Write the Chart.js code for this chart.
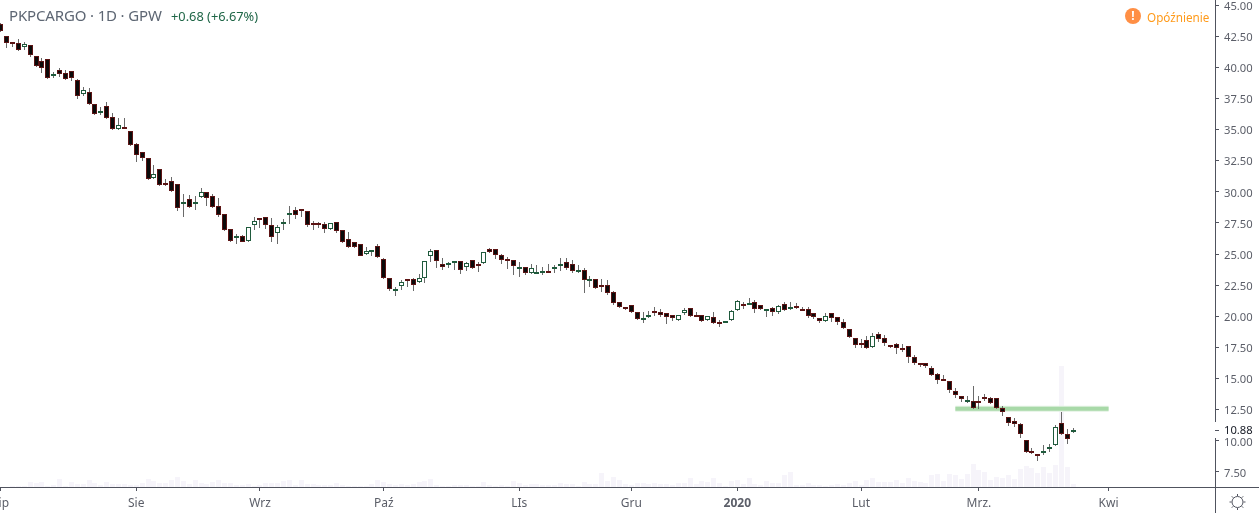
<!DOCTYPE html>
<html>
<head>
<meta charset="utf-8">
<title>PKPCARGO</title>
<script src="https://cdn.jsdelivr.net/npm/chart.js@4/dist/chart.umd.min.js"></script>
<style>
    html, body { margin: 0; padding: 0; background: #fff; overflow: hidden; }
    #wrap { position: relative; width: 1259px; height: 513px; font-family: 'Noto Sans', sans-serif; }
    #priceChart { position: absolute; left: 0; top: 0; }
    #title { position: absolute; left: 9px; top: 5px; font-size: 15px; letter-spacing: -0.15px; line-height: 20px; color: #5d6673; white-space: nowrap; }
    #change { position: absolute; left: 171px; top: 6px; font-size: 12.8px; line-height: 20px; color: #1f6647; white-space: nowrap; }
    #delayIcon { position: absolute; left: 1125px; top: 8px; width: 16px; height: 16px; border-radius: 50%; background: #ff8f45; color: #fff; font-size: 12px; font-weight: bold; line-height: 16px; text-align: center; }
    #delayText { position: absolute; left: 1147px; top: 7px; font-size: 11.7px; line-height: 20px; color: #ff9a1a; white-space: nowrap; }
    #gear { position: absolute; left: 1228px; top: 493px; }
</style>
</head>
<body>
<div id="wrap">
    <canvas id="priceChart" width="1259" height="513"></canvas>
    <div id="title">PKPCARGO · 1D · GPW</div>
    <div id="change">+0.68 (+6.67%)</div>
    <div id="delayIcon">!</div>
    <div id="delayText">Opóźnienie</div>
    <svg id="gear" width="19" height="18" viewBox="0 0 19 18">
        <circle cx="9.5" cy="9" r="5.5" fill="none" stroke="#50535e" stroke-width="1"/>
        <path d="M9.5 1v2M9.5 15v2M1.5 9h2M15.5 9h2M3.8 3.3l1.5 1.5M13.7 13.2l1.5 1.5M15.2 3.3l-1.5 1.5M5.3 13.2l-1.5 1.5" stroke="#50535e" stroke-width="1"/>
    </svg>
</div>
<script>
const opens = [43.48,42.49,42.01,41.93,41.66,41.77,40.89,40.48,40.64,39.36,
    39.76,39.52,39.68,38.99,37.83,37.99,37.03,36.36,36.87,35.99,
    35.02,35.24,34.86,33.82,33.18,32.69,31.09,31.81,30.69,30.85,
    30.61,29.00,29.40,29.11,29.62,29.96,29.64,28.84,28.20,26.99,
    26.35,26.48,26.08,27.37,27.93,28.01,27.31,26.72,27.39,28.20,
    28.52,28.60,28.44,27.47,27.47,27.39,26.99,27.55,26.91,26.19,
    25.95,25.79,24.98,25.20,25.63,24.58,23.06,22.09,22.47,23.00,
    22.98,22.73,23.06,24.82,25.30,24.23,24.10,24.34,24.42,23.94,
    24.50,24.18,24.26,25.38,25.38,24.90,24.58,24.50,23.91,23.94,
    23.46,23.46,23.51,23.62,23.78,24.02,24.34,24.18,23.67,23.70,
    22.90,22.98,22.50,22.50,21.93,21.13,20.73,20.89,20.33,19.85,
    19.93,20.41,20.33,20.25,20.09,19.69,20.25,20.65,20.09,20.09,
    19.69,19.93,19.52,19.52,19.69,20.49,20.97,20.97,21.13,20.89,
    20.49,20.65,20.33,20.97,20.68,20.81,20.57,20.57,20.25,19.85,
    19.61,20.25,19.93,19.53,18.97,18.25,17.84,18.08,17.52,18.57,
    18.25,17.68,17.76,17.47,17.60,16.72,16.24,16.29,15.84,15.35,
    14.95,14.79,13.99,13.59,13.24,13.19,13.19,13.51,13.43,13.43,
    12.62,11.90,11.58,11.34,10.05,9.17,8.96,9.09,9.41,9.65,
    11.42,10.54,10.78];
const closes = [42.95,41.98,41.85,41.42,41.85,40.97,40.14,39.92,39.12,39.44,
    39.44,39.04,39.12,37.67,38.16,37.06,36.28,36.47,35.91,35.02,
    35.34,35.10,33.79,32.94,32.69,31.01,31.41,30.53,30.55,30.04,
    28.68,29.16,28.76,29.19,29.96,29.48,28.76,28.12,26.91,26.08,
    26.43,26.00,27.15,27.69,27.79,27.31,26.35,27.15,27.55,28.33,
    28.17,28.49,27.31,27.37,27.37,27.04,27.47,26.88,26.00,25.60,
    25.60,24.88,25.22,25.36,24.74,23.06,22.17,22.17,22.73,22.87,
    22.49,23.06,24.42,25.22,24.42,23.94,24.26,24.42,23.70,24.26,
    23.91,24.10,25.14,25.14,24.90,24.50,24.50,24.02,23.97,23.46,
    23.86,23.57,23.62,23.51,23.94,24.18,23.91,23.67,23.73,22.95,
    22.98,22.26,22.39,21.91,21.05,20.73,20.57,20.38,19.77,19.90,
    20.09,20.33,20.14,19.93,19.85,20.09,20.49,20.01,20.01,19.61,
    20.01,19.44,19.36,19.61,20.41,21.21,20.89,21.05,20.57,20.57,
    20.57,20.33,20.81,20.49,20.73,20.65,20.49,20.01,19.93,19.61,
    20.01,19.85,19.53,19.05,18.33,17.68,17.68,17.44,18.41,18.16,
    17.84,17.52,17.44,17.42,16.72,16.24,16.18,16.00,15.27,14.87,
    14.87,14.07,13.67,13.35,13.29,12.62,13.03,13.35,13.03,12.62,
    12.30,11.42,11.34,10.54,9.09,9.09,8.90,9.22,9.49,11.10,
    10.54,10.13,10.88];
const highs = [43.54,42.49,42.06,42.28,42.06,41.80,40.89,40.75,40.64,39.65,
    39.92,39.79,39.73,39.07,38.40,38.32,37.03,36.79,37.22,36.33,
    35.93,35.93,34.86,33.90,33.23,32.69,32.16,31.81,31.03,31.17,
    30.61,29.80,29.72,29.67,30.31,29.99,29.83,29.48,28.20,26.99,
    26.62,26.53,27.15,27.95,27.93,28.01,27.87,27.31,27.82,28.87,
    28.76,28.60,28.44,27.63,27.61,27.55,27.53,27.55,26.96,26.75,
    26.00,25.79,25.55,25.36,25.79,24.66,23.06,22.39,22.92,23.00,
    23.06,23.40,24.42,25.38,25.30,24.66,24.39,24.42,24.42,24.39,
    24.55,24.34,25.20,25.47,25.38,24.98,24.74,24.50,24.34,23.94,
    24.21,24.13,24.00,24.21,24.13,24.66,24.66,24.53,24.10,23.86,
    23.25,22.98,22.98,22.92,22.01,21.13,20.73,20.89,20.33,20.33,
    20.43,20.73,20.57,20.25,20.09,20.09,20.65,20.65,20.33,20.09,
    20.01,20.33,19.69,19.61,20.49,21.29,21.13,21.45,21.29,20.89,
    20.57,20.73,20.89,21.13,21.13,21.05,20.73,20.73,20.25,19.85,
    20.25,20.25,19.93,19.77,18.97,18.25,18.16,18.43,18.67,18.73,
    18.49,17.68,17.84,17.76,17.60,16.88,16.24,16.29,16.00,15.43,
    15.27,14.79,14.26,13.59,13.59,14.42,13.56,13.77,13.51,13.43,
    12.78,11.90,11.85,11.42,10.05,9.44,8.96,9.68,9.73,11.28,
    12.33,10.96,11.02];
const lows = [42.81,41.58,41.66,41.34,41.39,40.86,40.06,39.57,39.07,39.12,
    39.25,38.99,38.93,37.49,37.73,37.00,36.20,36.20,35.85,34.97,
    34.97,35.05,33.71,32.43,32.51,30.95,31.01,30.50,30.50,29.99,
    28.49,28.01,28.71,28.54,29.48,28.89,28.71,27.96,26.86,26.00,
    25.81,25.97,25.99,26.94,27.12,26.99,26.00,25.81,26.94,27.42,
    27.82,28.01,27.21,26.94,27.12,26.72,26.94,26.72,25.87,25.52,
    25.52,24.85,24.90,24.88,24.66,23.00,22.04,21.64,22.12,22.39,
    22.04,22.65,22.71,24.39,23.86,23.70,23.91,23.73,23.40,23.64,
    23.81,23.59,24.23,25.06,24.64,24.18,23.81,23.35,23.19,23.35,
    23.41,23.41,23.35,23.49,23.51,23.67,23.73,23.51,23.46,21.91,
    22.34,22.20,21.99,21.75,20.94,20.65,20.52,20.27,19.71,19.50,
    19.87,20.03,19.98,19.42,19.66,19.66,20.14,19.98,19.98,19.55,
    19.61,19.42,19.18,19.50,19.66,20.43,20.57,20.89,20.30,20.49,
    19.98,20.06,20.17,20.43,20.52,20.57,20.47,19.88,19.77,19.50,
    19.58,19.58,19.34,18.99,18.22,17.47,17.42,17.34,17.44,17.90,
    17.58,17.42,17.01,17.17,16.29,16.13,15.89,15.84,15.17,14.60,
    14.82,13.88,13.40,13.11,13.00,12.57,12.54,13.19,12.94,12.57,
    12.03,11.20,11.10,10.21,9.04,8.98,8.34,8.90,9.09,9.62,
    10.48,9.71,10.59];
const volumes = [0,0,1,1,1,5,4,5,1,2,
    8,1,5,3,3,7,4,2,5,3,
    3,3,2,2,4,8,6,4,4,7,
    10,6,3,7,4,3,5,7,4,4,
    2,2,3,1,2,4,4,4,6,7,
    2,7,3,3,2,2,2,4,2,1,
    1,1,1,3,7,5,3,2,3,2,
    3,5,6,8,2,1,1,2,2,2,
    1,1,5,2,1,2,1,6,4,2,
    3,3,2,2,2,4,3,3,1,5,
    3,3,14,6,10,7,3,2,4,4,
    3,4,3,3,2,4,4,9,3,6,
    5,9,4,1,6,7,3,9,3,2,
    6,4,4,12,15,2,2,4,2,2,
    1,2,3,2,4,6,2,7,9,5,
    5,5,7,4,9,6,5,4,12,13,
    6,13,12,8,13,23,17,15,7,10,
    9,12,8,18,21,19,14,20,14,22,
    121,20,3];

const monthPositions = [0, 23, 44, 65, 88, 107, 125, 146, 166, 188];
const monthLabels = ['Lip', 'Sie', 'Wrz', 'Paź', 'LIs', 'Gru', '2020', 'Lut', 'Mrz.', 'Kwi'];
const priceTicks = [45, 42.5, 40, 37.5, 35, 32.5, 30, 27.5, 25, 22.5, 20, 17.5, 15, 12.5, 10, 7.5];
const lastPrice = 10.88;
const levelPrice = 12.58;
const levelStart = 162;
const levelEnd = 188;

const indexes = opens.map((o, i) => i);
const bodies = opens.map((o, i) => [o, closes[i]]);
const wicks = lows.map((l, i) => [l, highs[i]]);
const isUp = (i) => closes[i] >= opens[i];

const axisColor = '#50535e';
const labelColor = '#5b5e68';
const fontFamily = "'Noto Sans', sans-serif";

// keep the candles on whole pixels, the same way the original looks
const snapBars = {
    id: 'snapBars',
    beforeDatasetDraw(chart, args) {
        if (args.meta.type !== 'bar') return;
        args.meta.data.forEach((bar) => {
            bar.x = Math.round(bar.x - 0.5) + 0.5;
            bar.y = Math.round(bar.y);
            bar.base = Math.round(bar.base);
            if (args.index === 4 && Math.abs(bar.base - bar.y) < 2) bar.base = bar.y + 2;
        });
    }
};

// price labels sit a little lower than the tick marks in the original
const lowerPriceLabels = {
    id: 'lowerPriceLabels',
    afterUpdate(chart) {
        chart.scales.y.getLabelItems(chart.chartArea).forEach((item) => {
            item.options.translation[1] += 1.5;
        });
    }
};

// the axis lines run on to the window edges, and the last price sits over the scale
const axisExtras = {
    id: 'axisExtras',
    afterDraw(chart) {
        const ctx = chart.ctx;
        const area = chart.chartArea;
        const y = Math.round(chart.scales.y.getPixelForValue(lastPrice));
        ctx.save();
        ctx.strokeStyle = axisColor;
        ctx.lineWidth = 1;
        ctx.beginPath();
        ctx.moveTo(area.right, area.bottom + 0.5);
        ctx.lineTo(chart.width, area.bottom + 0.5);
        ctx.moveTo(area.right + 0.5, area.bottom);
        ctx.lineTo(area.right + 0.5, chart.height);
        ctx.stroke();
        ctx.fillStyle = '#fff';
        ctx.fillRect(area.right, y - 8, chart.width - area.right, 16);
        ctx.beginPath();
        ctx.moveTo(area.right, y + 0.5);
        ctx.lineTo(area.right + 4, y + 0.5);
        ctx.stroke();
        ctx.fillStyle = '#131722';
        ctx.font = '11.2px ' + fontFamily;
        ctx.textBaseline = 'middle';
        ctx.fillText(lastPrice.toFixed(2), area.right + 9, y + 0.5);
        ctx.restore();
    }
};

const ctx = document.getElementById('priceChart').getContext('2d');
new Chart(ctx, {
    plugins: [snapBars, lowerPriceLabels, axisExtras],
    data: {
        labels: indexes,
        datasets: [
            {
                type: 'bar',
                label: 'Wolumen',
                data: volumes,
                yAxisID: 'volume',
                order: 5,
                grouped: false,
                barThickness: 5,
                inflateAmount: 0,
                backgroundColor: '#f6f4fa'
            },
            {
                type: 'line',
                label: 'Poziom',
                data: [{ x: levelStart, y: levelPrice }, { x: levelEnd, y: levelPrice }],
                yAxisID: 'y',
                order: 4,
                borderColor: '#e3f2e3',
                borderWidth: 6,
                pointRadius: 0
            },
            {
                type: 'line',
                label: 'Poziom',
                data: [{ x: levelStart, y: levelPrice }, { x: levelEnd, y: levelPrice }],
                yAxisID: 'y',
                order: 3,
                borderColor: '#a8d9a8',
                borderWidth: 4,
                pointRadius: 0
            },
            {
                type: 'bar',
                label: 'Knoty',
                data: wicks,
                yAxisID: 'y',
                order: 2,
                grouped: false,
                barThickness: 1,
                inflateAmount: 0,
                backgroundColor: '#6a6a6a'
            },
            {
                type: 'bar',
                label: 'Kurs',
                data: bodies,
                yAxisID: 'y',
                order: 1,
                grouped: false,
                barThickness: 5,
                inflateAmount: 0,
                borderWidth: 1,
                borderSkipped: false,
                backgroundColor: (c) => isUp(c.dataIndex) ? '#ffffff' : '#0a0a0a',
                borderColor: (c) => isUp(c.dataIndex) ? '#1f5a3c' : '#5c1414'
            }
        ]
    },
    options: {
        responsive: false,
        animation: false,
        events: [],
        layout: { autoPadding: false, padding: 0 },
        plugins: {
            legend: { display: false },
            title: { display: false },
            tooltip: { enabled: false }
        },
        scales: {
            x: {
                type: 'linear',
                offset: false,
                min: -0.12,
                max: 206.06,
                afterBuildTicks: (scale) => {
                    scale.ticks = monthPositions.map((value) => ({ value }));
                },
                afterFit: (scale) => {
                    scale.height = 26;
                    scale.paddingLeft = 0;
                    scale.paddingRight = 0;
                },
                border: { color: axisColor },
                grid: { offset: false, drawOnChartArea: false, tickLength: 4, tickColor: axisColor },
                ticks: {
                    autoSkip: false,
                    maxRotation: 0,
                    padding: 5,
                    color: labelColor,
                    font: (c) => ({
                        family: fontFamily,
                        size: 12,
                        weight: c.index === 6 ? 'bold' : 'normal'
                    }),
                    callback: (value, index) => monthLabels[index]
                }
            },
            y: {
                type: 'linear',
                position: 'right',
                min: 6.29,
                max: 45.41,
                afterBuildTicks: (scale) => {
                    scale.ticks = priceTicks.map((value) => ({ value }));
                },
                afterFit: (scale) => {
                    scale.width = 44;
                    scale.paddingTop = 0;
                    scale.paddingBottom = 0;
                },
                border: { color: axisColor },
                grid: { drawOnChartArea: false, tickLength: 4, tickColor: axisColor },
                ticks: {
                    padding: 5,
                    color: labelColor,
                    font: { family: fontFamily, size: 11.2 },
                    callback: (value) => value.toFixed(2)
                }
            },
            volume: {
                type: 'linear',
                display: false,
                min: 0,
                max: 487
            }
        }
    }
});
</script>
</body>
</html>
